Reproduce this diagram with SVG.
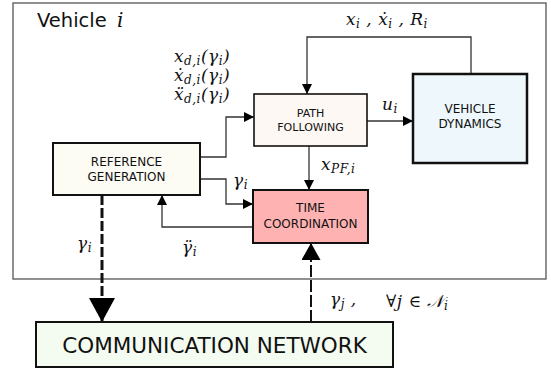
<svg xmlns="http://www.w3.org/2000/svg" width="551" height="370" viewBox="0 0 551 370">
<style>
.box{stroke:#111;}
.lbl{font-family:"DejaVu Sans","Liberation Sans",sans-serif;font-size:12px;fill:#111;text-anchor:middle;}
.m{font-family:"DejaVu Serif","Liberation Serif",serif;font-style:italic;font-size:17px;fill:#111;letter-spacing:0.5px;}
.sub{font-size:12px;}
.c{fill:none;stroke:#333;stroke-width:1.3;}
.d{fill:none;stroke:#111;}
</style>
<defs>
<marker id="arr" markerUnits="userSpaceOnUse" markerWidth="10" markerHeight="10" viewBox="0 0 10 10" refX="10" refY="5" orient="auto">
<path d="M0,0 L10,5 L0,10 z" fill="#000"/>
</marker>
<marker id="big" markerUnits="userSpaceOnUse" markerWidth="24" markerHeight="26" viewBox="0 0 24 26" refX="24" refY="13" orient="auto">
<path d="M0,0 L24,13 L0,26 z" fill="#000"/>
</marker>
<marker id="mid" markerUnits="userSpaceOnUse" markerWidth="17" markerHeight="19" viewBox="0 0 17 19" refX="17" refY="9.5" orient="auto">
<path d="M0,0 L17,9.5 L0,19 z" fill="#000"/>
</marker>
</defs>

<g id="vehicle-frame">
<rect x="13" y="3" width="533" height="276" fill="#fff" stroke="#555" stroke-width="1.3"/>
<text x="37" y="27" style="font-family:'DejaVu Sans',sans-serif;font-size:19.5px;fill:#111;">Vehicle</text>
<text x="117" y="27" class="m" style="font-size:20px;">i</text>
</g>

<g id="connectors">
<path class="c" d="M471,74 V37 H307 V94" marker-end="url(#arr)"/>
<path class="c" d="M367,121 H413" marker-end="url(#arr)"/>
<path class="c" d="M309,146 V190" marker-end="url(#arr)"/>
<path class="c" d="M200,157 H226 V117 H254" marker-end="url(#arr)"/>
<path class="c" d="M200,179 H226 V204 H253" marker-end="url(#arr)"/>
<path class="c" d="M253,227 H162 V195" marker-end="url(#arr)"/>
<path class="d" d="M102,195 V322" stroke-width="3" stroke-dasharray="10,3" marker-end="url(#big)"/>
<path class="d" d="M311,322 V243" stroke-width="2" stroke-dasharray="12,3" marker-end="url(#mid)"/>
</g>

<g id="labels">
<text class="m" x="174" y="62">x<tspan class="sub" dy="3">d,i</tspan><tspan dy="-3">(γ</tspan><tspan class="sub" dy="3">i</tspan><tspan dy="-3">)</tspan></text>
<text class="m" x="174" y="81">ẋ<tspan class="sub" dy="3">d,i</tspan><tspan dy="-3">(γ</tspan><tspan class="sub" dy="3">i</tspan><tspan dy="-3">)</tspan></text>
<text class="m" x="174" y="100">ẍ<tspan class="sub" dy="3">d,i</tspan><tspan dy="-3">(γ</tspan><tspan class="sub" dy="3">i</tspan><tspan dy="-3">)</tspan></text>
<text class="m" x="346" y="25">x<tspan class="sub" dy="3">i</tspan><tspan dy="-3" xml:space="preserve"> , ẋ</tspan><tspan class="sub" dy="3">i</tspan><tspan dy="-3" xml:space="preserve"> , R</tspan><tspan class="sub" dy="3">i</tspan></text>
<text class="m" x="382" y="110">u<tspan class="sub" dy="3">i</tspan></text>
<text class="m" x="321" y="170">x<tspan class="sub" dy="3">PF,i</tspan></text>
<text class="m" x="233" y="186">γ<tspan class="sub" dy="3">i</tspan></text>
<text class="m" x="77" y="249">γ<tspan class="sub" dy="3">i</tspan></text>
<text class="m" x="182" y="253">γ̈<tspan class="sub" dy="3">i</tspan></text>
<text class="m" x="330" y="305">γ<tspan class="sub" dy="3">j</tspan><tspan dy="-3"> ,</tspan></text>
<text class="m" x="386" y="307">∀j ∈ 𝒩<tspan class="sub" dy="3">i</tspan></text>
</g>

<g id="path-following">
<rect class="box" x="254" y="94" width="113" height="52" fill="#fdf8f4" stroke-width="1.6"/>
<text class="lbl" x="310.5" y="117" style="font-size:11px;">PATH</text>
<text class="lbl" x="310.5" y="131" style="font-size:11px;">FOLLOWING</text>
</g>

<g id="vehicle-dynamics">
<rect class="box" x="413" y="74" width="114" height="89" fill="#eef8fc" stroke-width="2.5"/>
<text class="lbl" x="470" y="113">VEHICLE</text>
<text class="lbl" x="470" y="128">DYNAMICS</text>
</g>

<g id="time-coordination">
<rect class="box" x="253" y="190" width="115" height="53" fill="#ffb2b2" stroke-width="2"/>
<text class="lbl" x="310.5" y="212">TIME</text>
<text class="lbl" x="310.5" y="228">COORDINATION</text>
</g>

<g id="reference-generation">
<rect class="box" x="53" y="143" width="147" height="52" fill="#fcfbf4" stroke-width="2"/>
<text class="lbl" x="126.5" y="166">REFERENCE</text>
<text class="lbl" x="126.5" y="181">GENERATION</text>
</g>

<g id="communication-network">
<rect class="box" x="36" y="322" width="357" height="45" fill="#f4fcf2" stroke-width="2"/>
<text class="lbl" x="214.5" y="353" style="font-size:21.5px;">COMMUNICATION NETWORK</text>
</g>
</svg>
